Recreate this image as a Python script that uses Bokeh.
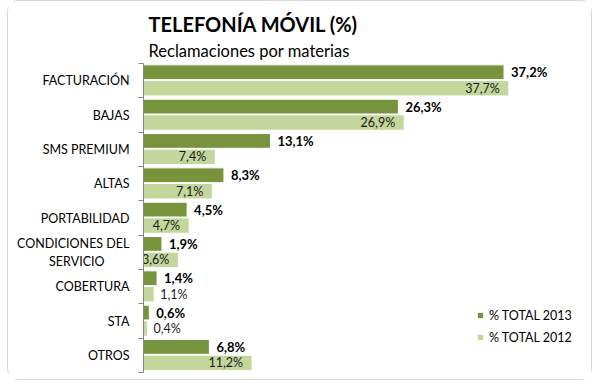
import numpy as np
from bokeh.plotting import figure
from bokeh.models import (ColumnDataSource, Range1d, FixedTicker, Title, Legend,
                          LegendItem)
from bokeh.core.properties import value
from bokeh.embed import file_html
from bokeh.resources import INLINE

categories = ["FACTURACIÓN", "BAJAS", "SMS PREMIUM", "ALTAS", "PORTABILIDAD",
              "CONDICIONES DEL\nSERVICIO\u2003\u2003\u2002", "COBERTURA", "STA", "OTROS"]
v2013 = [37.2, 26.3, 13.1, 8.3, 4.5, 1.9, 1.4, 0.6, 6.8]
v2012 = [37.7, 26.9, 7.4, 7.1, 4.7, 3.6, 1.1, 0.4, 11.2]
series_names = ["% TOTAL 2013", "% TOTAL 2012"]

DARK = "#77933C"
LIGHT = "#C3D69B"
FONT = "Lato"

idx = np.arange(len(categories))
fmt = lambda v: f"{v:.1f}%".replace(".", ",")

src13 = ColumnDataSource(dict(y=idx + 0.255, v=v2013, lab=[fmt(v) for v in v2013]))
src12 = ColumnDataSource(dict(y=idx + 0.72, v=v2012, lab=[fmt(v) for v in v2012]))
inside = [v >= 3 for v in v2012]
def subset(keep):
    ys = [y for y, k in zip(idx + 0.72, inside) if k == keep]
    vs = [v for v, k in zip(v2012, inside) if k == keep]
    return ColumnDataSource(dict(y=ys, v=vs, lab=[fmt(v) for v in vs]))
src12_in = subset(True)
src12_out = subset(False)

p = figure(width=585, height=380, output_backend="svg", toolbar_location=None,
           x_range=Range1d(0, 45.4), y_range=Range1d(len(categories), 0),
           min_border_left=135, min_border_right=10, min_border_top=62,
           min_border_bottom=9, x_axis_location=None, title=None)
p.styles = {"border": "1px solid #d9d9d9", "border-radius": "11px",
            "margin-left": "7px"}
p.outline_line_color = None
p.xgrid.visible = False
p.ygrid.visible = False
p.background_fill_color = "white"
p.border_fill_color = "white"

r13 = p.hbar(y="y", right="v", left=0, height=0.43, source=src13,
             fill_color=DARK, line_color="white", line_width=1)
r12 = p.hbar(y="y", right="v", left=0, height=0.45, source=src12,
             fill_color=LIGHT, line_color="white", line_width=1)

p.text(x="v", y="y", text="lab", source=src13, x_offset=7,
       text_font=value(FONT), text_align="left", text_baseline="middle",
       text_font_size="13px", text_font_style="bold", text_color="black")
p.text(x="v", y="y", text="lab", source=src12_in, x_offset=-9,
       text_font=value(FONT), text_align="right", text_baseline="middle",
       text_font_size="12.5px", text_color="#1a1a1a")
p.text(x="v", y="y", text="lab", source=src12_out, x_offset=6,
       text_font=value(FONT), text_align="left", text_baseline="middle",
       text_font_size="12.5px", text_color="#1a1a1a")

ax = p.yaxis[0]
ax.ticker = FixedTicker(ticks=list(idx + 0.5), minor_ticks=list(range(len(categories) + 1)))
ax.major_label_overrides = {float(i + 0.5): c for i, c in zip(idx, categories)}
ax.major_tick_line_color = None
ax.major_tick_out = 0
ax.major_tick_in = 0
ax.minor_tick_out = 5
ax.minor_tick_in = 0
ax.minor_tick_line_color = "#868686"
ax.axis_line_color = "#868686"
ax.major_label_standoff = 9
ax.major_label_text_font = FONT
ax.major_label_text_font_size = "12.5px"
ax.major_label_text_color = "black"

legend = Legend(items=[LegendItem(label=series_names[0], renderers=[r13]),
                       LegendItem(label=series_names[1], renderers=[r12])],
                location=(333, 27), glyph_width=8, glyph_height=8,
                label_text_font=FONT, label_text_font_size="12.5px",
                label_text_color="black",
                label_standoff=5, spacing=6, padding=0, margin=0,
                border_line_color=None, background_fill_alpha=0,
                label_height=16)
p.add_layout(legend)

sub = Title(text="Reclamaciones por materias", text_font=FONT,
            text_font_size="16.5px", text_font_style="normal", align="left",
            offset=5, standoff=6, text_color="black")
main = Title(text="TELEFONÍA MÓVIL (%)", text_font=FONT, text_font_size="20px",
             text_font_style="bold", align="left", offset=5, standoff=0,
             text_color="black")
p.add_layout(sub, "above")
p.add_layout(main, "above")

open("out.html", "w").write(file_html(p, INLINE))
